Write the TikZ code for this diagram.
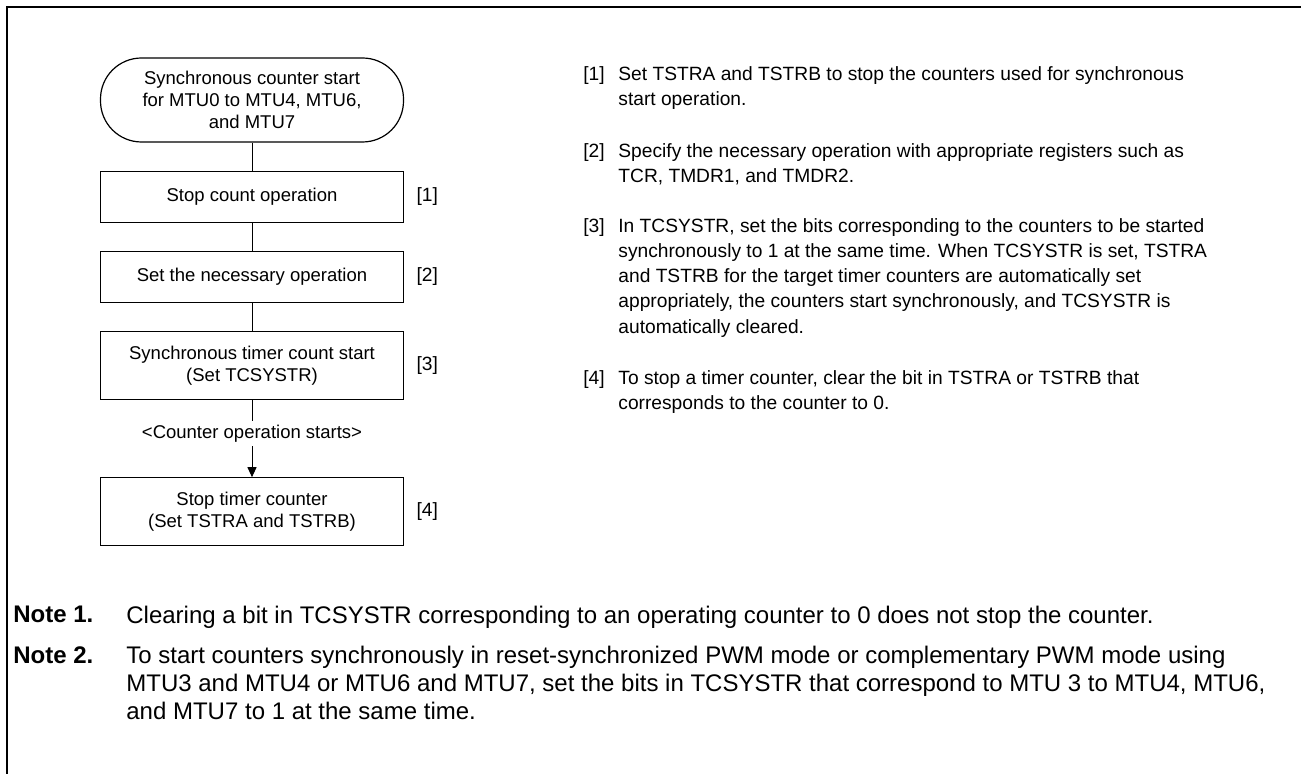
\documentclass[tikz,border=0pt]{standalone}
\usepackage{fontspec}
\setmainfont{Liberation Sans}
\usetikzlibrary{arrows.meta,positioning}

\begin{document}
\begin{tikzpicture}[
    x=0.5pt, y=-0.5pt,
    node distance=14pt,
    termbox/.style={draw, line width=0.6pt, rounded corners=20.5pt, minimum width=151.5pt, minimum height=42pt, align=center, inner sep=1pt, font=\fontsize{9.25}{11}\selectfont},
    procbox/.style={draw, line width=0.6pt, minimum width=151.5pt, minimum height=25.5pt, align=center, inner sep=1pt, font=\fontsize{9.25}{11}\selectfont},
    steplabel/.style={anchor=west, inner sep=0pt, font=\fontsize{9.6}{12.6}\selectfont},
    steptext/.style={anchor=north west, inner sep=0pt, align=left, font=\fontsize{9.6}{12.6}\selectfont},
    notelabel/.style={anchor=north west, inner sep=0pt, font=\fontsize{12}{14}\selectfont\bfseries},
    notetext/.style={anchor=north west, inner sep=0pt, align=left, font=\fontsize{12}{14}\selectfont},
    arrow/.style={-{Triangle[length=5pt, width=4.5pt]}}
    ]
    \useasboundingbox (0,0) rectangle (1301,774);

    % frame
    \draw[line width=1pt] (7,774) -- (7,7) -- (1301,7);

    % flow chart
    \node[termbox] (start) at (252,100) {Synchronous counter start\\for MTU0 to MTU4, MTU6,\\and MTU7};
    \node[procbox] (stop) [below=of start] {Stop count operation};
    \node[procbox] (setop) [below=of stop] {Set the necessary operation};
    \node[procbox, minimum height=34pt] (sync) [below=of setop] {Synchronous timer count start\\(Set TCSYSTR)};
    \node[procbox, minimum height=34pt] (stoptmr) [below=38.5pt of sync] {Stop timer counter\\(Set TSTRA and TSTRB)};

    \node[steplabel, right=6pt of stop] (n1) {[1]};
    \node[steplabel, right=6pt of setop] (n2) {[2]};
    \node[steplabel, right=6pt of sync] (n3) {[3]};
    \node[steplabel, right=6pt of stoptmr] (n4) {[4]};

    \draw[line width=0.5pt] (start) -- (stop);
    \draw[line width=0.5pt] (stop) -- (setop);
    \draw[line width=0.5pt] (setop) -- (sync);
    \draw[line width=0.5pt, arrow] (sync) -- node[pos=0.43, fill=white, inner sep=2pt, font=\fontsize{9.25}{11}\selectfont] (opstart) {<Counter operation starts>} (stoptmr);

    % description
    \node[steptext] (d1l) at (583,66) {[1]};
    \node[steptext] (d1) at (618,66) {Set TSTRA and TSTRB to stop the counters used for synchronous\\start operation.};
    \node[steptext] (d2l) at (583,143) {[2]};
    \node[steptext] (d2) at (618,143) {Specify the necessary operation with appropriate registers such as\\TCR, TMDR1, and TMDR2.};
    \node[steptext] (d3l) at (583,218) {[3]};
    \node[steptext] (d3) at (618,218) {In TCSYSTR, set the bits corresponding to the counters to be started\\synchronously to 1 at the same time. When TCSYSTR is set, TSTRA\\and TSTRB for the target timer counters are automatically set\\appropriately, the counters start synchronously, and TCSYSTR is\\automatically cleared.};
    \node[steptext] (d4l) at (583,370) {[4]};
    \node[steptext] (d4) at (618,370) {To stop a timer counter, clear the bit in TSTRA or TSTRB that\\corresponds to the counter to 0.};

    % notes
    \node[notelabel] (note1) at (13,606) {Note 1.};
    \node[notetext] (note1t) at (126,606) {Clearing a bit in TCSYSTR corresponding to an operating counter to 0 does not stop the counter.};
    \node[notelabel] (note2) at (13,646) {Note 2.};
    \node[notetext] (note2t) at (126,646) {To start counters synchronously in reset-synchronized PWM mode or complementary PWM mode using\\MTU3 and MTU4 or MTU6 and MTU7, set the bits in TCSYSTR that correspond to MTU 3 to MTU4, MTU6,\\and MTU7 to 1 at the same time.};
\end{tikzpicture}
\end{document}
